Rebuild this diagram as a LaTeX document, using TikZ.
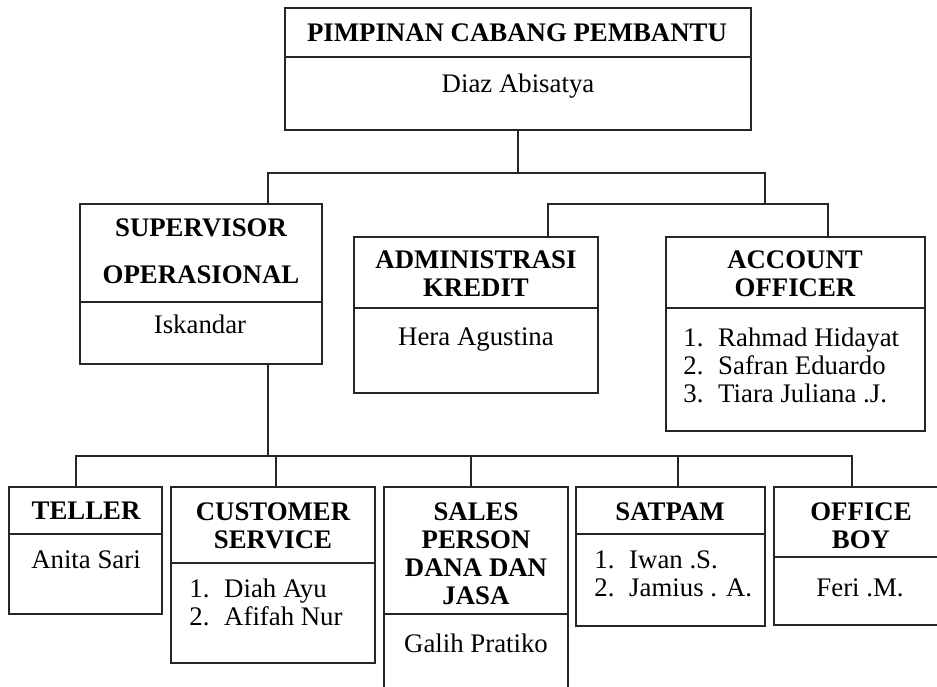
\documentclass[tikz,border=0pt]{standalone}
\usepackage{fontspec}
\setmainfont{Liberation Serif}
\usetikzlibrary{fit}
\begin{document}
\begin{tikzpicture}[
	x=0.5pt, y=-0.5pt,
	wire/.style={line width=0.8pt, draw=black!85},
	orgbox/.style={rectangle, draw=black!85, line width=0.8pt, inner sep=0pt},
	title/.style={inner sep=0pt, anchor=north, align=center, font=\fontsize{13.4}{14}\selectfont\bfseries},
	person/.style={inner sep=0pt, anchor=north, align=center, font=\fontsize{13.4}{14}\selectfont},
	members/.style={inner sep=0pt, anchor=north west, align=left, font=\fontsize{13.4}{14}\selectfont},
]
\useasboundingbox (0,0) rectangle (937,686);
% boxes with their dividing line
\foreach \id/\xa/\ya/\xb/\yb/\yd in {top/285/8/751/130/57, sup/80/204/322/364/302, adm/354/237/598/393/308,
	acc/666/237/925/431/308, tel/9/487/162/614/534, cs/171/487/375/663/563, sal/384/487/568/700/614,
	sat/576/487/765/626/534, boy/774/487/948/625/557} {
	\node [orgbox, fit={(\xa,\ya) (\xb,\yb)}] (\id) {};
	\draw [wire] (\xa,\yd) -- (\xb,\yd);
}
% texts
\node [title] (top-t) at (517,23) {PIMPINAN CABANG PEMBANTU};
\node [person] (top-n) at (518,74) {Diaz Abisatya};
\node [title] (sup-t) at (201,218) {SUPERVISOR\\[9.6pt]OPERASIONAL};
\node [person] (sup-n) at (200,314) {Iskandar};
\node [title] (adm-t) at (476,250) {ADMINISTRASI\\KREDIT};
\node [person] (adm-n) at (476,327) {Hera Agustina};
\node [title] (acc-t) at (795,250) {ACCOUNT\\OFFICER};
\node [members] (acc-n) at (683,327) {1.\hspace{0.55em}Rahmad Hidayat\\2.\hspace{0.55em}Safran Eduardo\\3.\hspace{0.55em}Tiara Juliana .J.};
\node [title] (tel-t) at (86,502) {TELLER};
\node [person] (tel-n) at (86,550) {Anita Sari};
\node [title] (cs-t) at (273,502) {CUSTOMER\\SERVICE};
\node [members] (cs-n) at (189,578) {1.\hspace{0.55em}Diah Ayu\\2.\hspace{0.55em}Afifah Nur};
\node [title] (sal-t) at (476,502) {SALES\\PERSON\\DANA DAN\\JASA};
\node [person] (sal-n) at (476,633) {Galih Pratiko};
\node [title] (sat-t) at (670,502) {SATPAM};
\node [members] (sat-n) at (594,550) {1.\hspace{0.55em}Iwan .S.\\2.\hspace{0.55em}Jamius . A.};
\node [title] (boy-t) at (861,502) {OFFICE\\BOY};
\node [person] (boy-n) at (860,578) {Feri .M.};
% connection points
\coordinate (busA) at (518,173);
\coordinate (sub) at (765,204);
\coordinate (sup-in) at (268,204);
\coordinate (adm-in) at (548,237);
\coordinate (acc-in) at (828,237);
\coordinate (sup-out) at (268,364);
\coordinate (busB) at (268,456);
\coordinate (tel-in) at (76,487);
\coordinate (cs-in) at (276,487);
\coordinate (sal-in) at (471,487);
\coordinate (sat-in) at (678,487);
\coordinate (boy-in) at (852,487);
% connectors
\draw [wire] (top.south) -- (busA);
\draw [wire] (sup-in) |- (busA) -| (sub);
\draw [wire] (adm-in) |- (sub) -| (acc-in);
\draw [wire] (sup-out) -- (busB);
\draw [wire] (tel-in) |- (busB) -| (boy-in);
\foreach \n in {cs-in, sal-in, sat-in}
	\draw [wire] (\n) -- (\n |- busB);
\end{tikzpicture}
\end{document}
